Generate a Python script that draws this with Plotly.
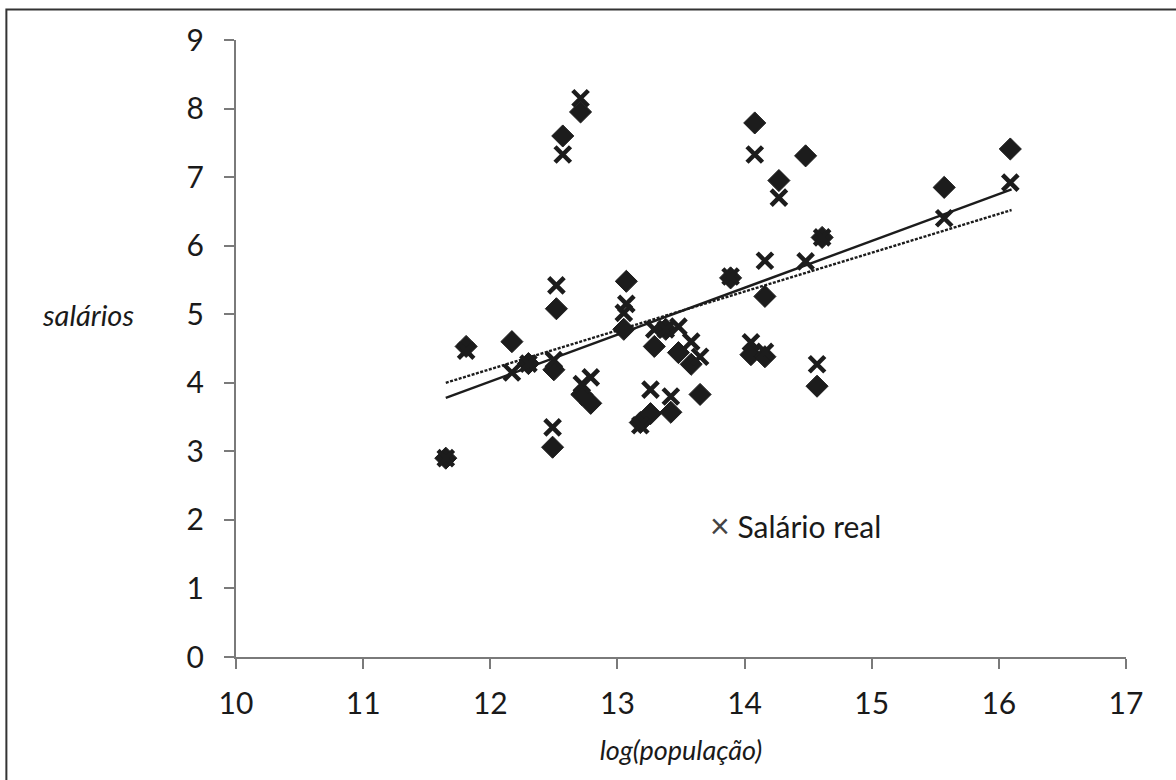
import plotly.graph_objects as go

# log(população) for each city
log_pop = [11.65, 11.81, 12.17, 12.30, 12.49, 12.50, 12.52, 12.57, 12.71, 12.72,
           12.79, 13.05, 13.07, 13.18, 13.26, 13.29, 13.38, 13.42, 13.48, 13.58,
           13.65, 13.89, 14.05, 14.08, 14.16, 14.16, 14.27, 14.48, 14.57, 14.61,
           15.57, 16.09]
# predicted wage (diamonds)
salario_previsto = [2.90, 4.53, 4.60, 4.28, 3.06, 4.19, 5.08, 7.60, 7.95, 3.83,
                    3.70, 4.78, 5.48, 3.42, 3.55, 4.53, 4.78, 3.57, 4.44, 4.27,
                    3.83, 5.53, 4.41, 7.79, 4.38, 5.26, 6.95, 7.31, 3.95, 6.12,
                    6.85, 7.41]
# real wage (crosses)
salario_real = [2.90, 4.47, 4.15, 4.28, 3.35, 4.33, 5.42, 7.33, 8.15, 3.98,
                4.08, 5.02, 5.15, 3.38, 3.90, 4.78, 4.78, 3.80, 4.82, 4.60,
                4.38, 5.55, 4.59, 7.33, 4.45, 5.78, 6.70, 5.77, 4.27, 6.12,
                6.40, 6.92]
# trend lines (end points)
trend_x = [11.65, 16.10]
trend_solid_y = [3.78, 6.82]
trend_dashed_y = [4.00, 6.52]

x_ticks = [10, 11, 12, 13, 14, 15, 16, 17]
y_ticks = [0, 1, 2, 3, 4, 5, 6, 7, 8, 9]

INK = "#1c1c1c"
AXIS = "#7a7a7a"
TXT = "#1a1a1a"
FONT = "Lato"

fig = go.Figure()
fig.add_trace(go.Scatter(x=trend_x, y=trend_dashed_y, mode="lines",
                         line=dict(color=INK, width=2.4, dash="3px,1.5px"),
                         showlegend=False, hoverinfo="skip"))
fig.add_trace(go.Scatter(x=trend_x, y=trend_solid_y, mode="lines",
                         line=dict(color=INK, width=2.4),
                         showlegend=False, hoverinfo="skip"))
fig.add_trace(go.Scatter(x=log_pop, y=salario_previsto, mode="markers",
                         name="Salário previsto",
                         marker=dict(symbol="diamond", size=17, color=INK,
                                     line=dict(color=INK, width=1)),
                         showlegend=False))
fig.add_trace(go.Scatter(x=log_pop, y=salario_real, mode="markers",
                         name="Salário real",
                         marker=dict(symbol="x-thin", size=15.5, color=INK,
                                     line=dict(color=INK, width=4.5)),
                         showlegend=False))

fig.update_layout(
    width=1176, height=780,
    margin=dict(l=236, r=50, t=40, b=123),
    paper_bgcolor="white", plot_bgcolor="white",
    font=dict(family=FONT, color=TXT),
    xaxis=dict(range=[10, 17], tickvals=x_ticks, showgrid=False, zeroline=False,
               showline=True, linecolor=AXIS, linewidth=2,
               ticks="outside", ticklen=10, tickwidth=2, tickcolor=AXIS,
               tickfont=dict(size=30, family=FONT, color=TXT),
               ticklabelstandoff=9,
               title=dict(text="<i>log(população)</i>",
                          font=dict(size=27, family=FONT, color=TXT),
                          standoff=22)),
    yaxis=dict(range=[0, 9], tickvals=y_ticks, showgrid=False, zeroline=False,
               showline=True, linecolor=AXIS, linewidth=2,
               ticks="outside", ticklen=10, tickwidth=2, tickcolor=AXIS,
               tickfont=dict(size=30, family=FONT, color=TXT),
               ticklabelstandoff=14),
    annotations=[
        dict(text="<i>salários</i>", xref="paper", yref="y", x=-0.166, y=5,
             xanchor="center", yanchor="middle", showarrow=False,
             font=dict(size=29, family=FONT, color=TXT)),
        dict(text="<span style='font-size:34px;color:#444444'>×</span> Salário real",
             xref="x", yref="y", x=14.4, y=1.94,
             xanchor="center", yanchor="middle", showarrow=False,
             font=dict(size=30, family=FONT, color=TXT)),
    ],
    shapes=[
        dict(type="rect", xref="paper", yref="paper",
             x0=-0.258, x1=1.2, y0=-0.5, y1=1.0494,
             line=dict(color="#333333", width=2), layer="below"),
    ],
)

fig.write_html("out.html")
